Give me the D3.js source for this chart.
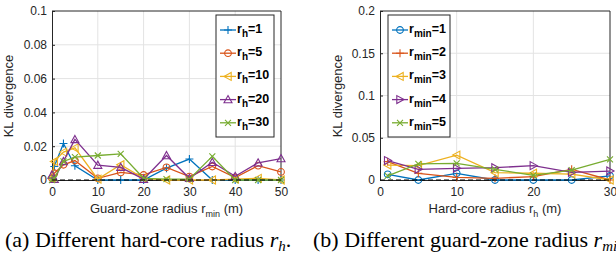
<!DOCTYPE html>
<html>
<head>
<meta charset="utf-8">
<script src="https://cdn.jsdelivr.net/npm/d3@7"></script>
<style>
  body { margin: 0; background: #fff; }
  svg text { font-family: "Liberation Sans", Arial, sans-serif; }
</style>
</head>
<body>
<svg id="chart" width="616" height="266"></svg>
<script>
  // (a) KL divergence vs guard-zone radius, one line per hard-core radius
  const rmin_x = [0, 0.5, 2.5, 5, 10, 15, 20, 25, 30, 35, 40, 45, 50];
  const kl_rh1  = [0.001, 0.008, 0.0216, 0.0084, 0, 0, 0, 0.007, 0.0124, 0, 0, 0, 0];
  const kl_rh5  = [0.001, 0.004, 0.009, 0.0115, 0.001, 0.0045, 0.003, 0.0075, 0.002, 0.008, 0.0015, 0.0085, 0.0048];
  const kl_rh10 = [0.001, 0.011, 0.0165, 0.019, 0.0005, 0.009, 0.001, 0, 0, 0, 0.0005, 0.001, 0];
  const kl_rh20 = [0.003, 0.0005, 0.011, 0.024, 0.0088, 0.0075, 0.0005, 0.0145, 0.001, 0.0105, 0.0022, 0.0102, 0.0127];
  const kl_rh30 = [0, 0.001, 0.011, 0.0135, 0.0145, 0.0155, 0.001, 0.0005, 0.0005, 0.014, 0, 0, 0];
  const left_labels = ["1", "5", "10", "20", "30"];
  const left_yticks = [0, 0.02, 0.04, 0.06, 0.08, 0.1];
  const left_xticks = [0, 10, 20, 30, 40, 50];

  // (b) KL divergence vs hard-core radius, one line per guard-zone radius
  const rh_x = [1, 5, 10, 15, 20, 25, 30];
  const kl_rmin1 = [0.0067, 0, 0.0079, 0, 0, 0, 0.005];
  const kl_rmin2 = [0.0217, 0.0079, 0.003, 0.002, 0.004, 0.0126, 0];
  const kl_rmin3 = [0.0177, 0.017, 0.0295, 0.0087, 0.008, 0.007, 0];
  const kl_rmin4 = [0.023, 0.0126, 0.0138, 0.0146, 0.017, 0.009, 0.0106];
  const kl_rmin5 = [0.005, 0.019, 0.0197, 0.0126, 0.0055, 0.0118, 0.0244];
  const right_labels = ["1", "2", "3", "4", "5"];
  const right_yticks = [0, 0.05, 0.1, 0.15, 0.2];
  const right_xticks = [0, 10, 20, 30];

  const colors = ["#0072BD", "#D95319", "#EDB120", "#7E2F8E", "#77AC30"];
  const svg = d3.select('#chart');

  // marker path centred at 0,0
  function marker(kind, s) {
    switch (kind) {
      case '+': return `M${-s},0H${s}M0,${-s}V${s}`;
      case 'x': return `M${-s*0.75},${-s*0.75}L${s*0.75},${s*0.75}M${-s*0.75},${s*0.75}L${s*0.75},${-s*0.75}`;
      case 'o': return d3.symbol(d3.symbolCircle, Math.PI * s * s * 0.7)();
      case '^': return `M0,${-s}L${s},${s*0.8}L${-s},${s*0.8}Z`;
      case '<': return `M${-s},0L${s*0.8},${-s}L${s*0.8},${s}Z`;
      case '>': return `M${s},0L${-s*0.8},${-s}L${-s*0.8},${s}Z`;
    }
  }

  function draw_panel(cfg) {
    const x = d3.scaleLinear().domain(cfg.xdomain).range([cfg.left, cfg.right]);
    const y = d3.scaleLinear().domain(cfg.ydomain).range([180, 11]);
    const g = svg.append('g');

    // white plot area + grid
    g.append('rect').attr('x', cfg.left).attr('y', 11)
      .attr('width', cfg.right - cfg.left).attr('height', 169).attr('fill', '#fff');
    g.selectAll('.gx').data(cfg.xticks.slice(1, -1)).join('line')
      .attr('x1', d => x(d)).attr('x2', d => x(d)).attr('y1', 11).attr('y2', 180)
      .attr('stroke', '#e3e3e3').attr('stroke-width', 1);
    g.selectAll('.gy').data(cfg.yticks.slice(1, -1)).join('line')
      .attr('x1', cfg.left).attr('x2', cfg.right).attr('y1', d => y(d)).attr('y2', d => y(d))
      .attr('stroke', '#e3e3e3').attr('stroke-width', 1);

    // axes (inward ticks, MATLAB style)
    const xa = g.append('g').attr('transform', 'translate(0,180)')
      .call(d3.axisBottom(x).tickValues(cfg.xticks).tickSizeInner(-3).tickSizeOuter(0).tickPadding(7));
    const ya = g.append('g').attr('transform', `translate(${cfg.left},0)`)
      .call(d3.axisLeft(y).tickValues(cfg.yticks).tickFormat(d => d3.format('~g')(d)).tickSizeInner(-3).tickSizeOuter(0).tickPadding(5));
    [xa, ya].forEach(a => {
      a.select('.domain').attr('stroke', '#262626');
      a.selectAll('.tick line').attr('stroke', '#262626');
      a.selectAll('text').attr('fill', '#262626').style('font-size', '12px');
    });
    // top and right frame
    g.append('path')
      .attr('d', `M${cfg.left},11H${cfg.right}V180`)
      .attr('fill', 'none').attr('stroke', '#262626').attr('stroke-width', 1);

    // series
    const line = d3.line().x(d => x(d[0])).y(d => y(d[1]));
    cfg.series.forEach((vals, i) => {
      const pts = cfg.xs.map((xv, j) => [xv, vals[j]]);
      g.append('path').datum(pts).attr('d', line)
        .attr('fill', 'none').attr('stroke', colors[i]).attr('stroke-width', 1.3);
      g.selectAll(null).data(pts).join('path')
        .attr('transform', d => `translate(${x(d[0])},${y(d[1])})`)
        .attr('d', marker(cfg.markers[i], 4))
        .attr('fill', 'none').attr('stroke', colors[i]).attr('stroke-width', 1.1);
    });

    // dashed reference line at zero
    g.append('line').attr('x1', cfg.left).attr('x2', cfg.right)
      .attr('y1', y(0)).attr('y2', y(0))
      .attr('stroke', '#000').attr('stroke-width', 1.2).attr('stroke-dasharray', '5,3');

    // axis labels
    g.append('text')
      .attr('transform', `translate(${cfg.ylabel_x},96) rotate(-90)`)
      .attr('text-anchor', 'middle').attr('fill', '#262626').style('font-size', '13px')
      .text('KL divergence');
    const xl = g.append('text').attr('x', (cfg.left + cfg.right) / 2 + cfg.xlabel_dx).attr('y', 213)
      .attr('text-anchor', 'middle').attr('fill', '#262626').style('font-size', '13px');
    xl.append('tspan').text(cfg.xlabel + ' r');
    xl.append('tspan').attr('dy', 4).style('font-size', '9px').text(cfg.xsub);
    xl.append('tspan').attr('dy', -4).text(' (m)');

    // legend
    const lg = g.append('g');
    lg.append('rect').attr('x', cfg.leg_x).attr('y', 15)
      .attr('width', cfg.leg_w).attr('height', 122)
      .attr('fill', '#fff').attr('stroke', '#262626').attr('stroke-width', 1);
    cfg.labels.forEach((lab, i) => {
      const ly = 30 + i * 23.2;
      lg.append('line').attr('x1', cfg.leg_x + 4).attr('x2', cfg.leg_x + 20)
        .attr('y1', ly).attr('y2', ly).attr('stroke', colors[i]).attr('stroke-width', 1.3);
      lg.append('path').attr('transform', `translate(${cfg.leg_x + 12},${ly})`)
        .attr('d', marker(cfg.markers[i], 4))
        .attr('fill', 'none').attr('stroke', colors[i]).attr('stroke-width', 1.1);
      const t = lg.append('text').attr('x', cfg.leg_x + 21).attr('y', ly + 3)
        .attr('fill', '#000').style('font-size', '12.5px').style('font-weight', 'bold');
      t.append('tspan').text('r');
      t.append('tspan').attr('dy', 4).style('font-size', '10px').text(cfg.legsub);
      t.append('tspan').attr('dy', -4).text('=' + lab);
    });
  }

  draw_panel({
    left: 52, right: 281, xdomain: [0, 50], ydomain: [0, 0.1],
    xs: rmin_x, series: [kl_rh1, kl_rh5, kl_rh10, kl_rh20, kl_rh30],
    markers: ['+', 'o', '<', '^', 'x'], labels: left_labels, legsub: 'h',
    xticks: left_xticks, yticks: left_yticks,
    xlabel: 'Guard-zone radius', xsub: 'min', xlabel_dx: 0, ylabel_x: 13,
    leg_x: 216, leg_w: 58
  });

  draw_panel({
    left: 380, right: 610, xdomain: [0, 30], ydomain: [0, 0.2],
    xs: rh_x, series: [kl_rmin1, kl_rmin2, kl_rmin3, kl_rmin4, kl_rmin5],
    markers: ['o', '+', '<', '>', 'x'], labels: right_labels, legsub: 'min',
    xticks: right_xticks, yticks: right_yticks,
    xlabel: 'Hard-core radius', xsub: 'h', xlabel_dx: 0, ylabel_x: 342,
    leg_x: 388, leg_w: 62
  });

  // sub-figure captions (the second one runs off the right edge, as in the source)
  const cap = svg.append('g').attr('fill', '#000');
  function caption(xpos, pre, sub, post) {
    const t = cap.append('text').attr('transform', `translate(${xpos},247)`)
      .style('font-family', '"Liberation Serif", "Times New Roman", serif')
      .style('font-size', '22px');
    t.append('tspan').text(pre);
    t.append('tspan').style('font-style', 'italic').text('r');
    t.append('tspan').attr('dy', 4).style('font-style', 'italic').style('font-size', '15px').text(sub);
    t.append('tspan').attr('dy', -4).text(post);
  }
  caption(5, '(a) Different hard-core radius ', 'h', '.');
  caption(313, '(b) Different guard-zone radius ', 'min', '.');
</script>
</body>
</html>
